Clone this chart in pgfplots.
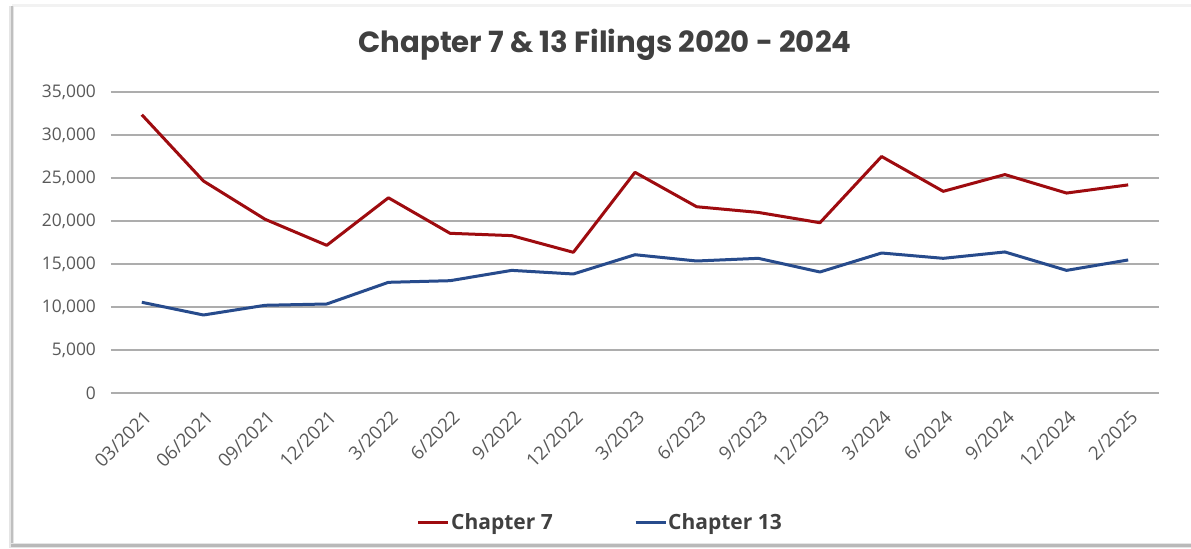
\documentclass[border=0pt]{standalone}
\usepackage{fontspec}
\setmainfont{Open Sans}
\newfontfamily\titlefont{Poppins}
\usepackage{pgfplots}
\pgfplotsset{compat=1.18}
\definecolor{chred}{HTML}{9E0B0F}
\definecolor{chblue}{HTML}{274B8C}
\definecolor{txtgray}{HTML}{595959}
\definecolor{titlegray}{HTML}{404040}
\definecolor{gridgray}{HTML}{ADADAD}
\begin{document}
\begin{tikzpicture}[x=1pt,y=1pt]
\useasboundingbox (0,0) rectangle (595.5,274);
\fill[white] (0,0) rectangle (595.5,274);
% frame with shadow
\fill[gray!10] (6,270.5) rectangle (595.5,272);
\fill[gray!20] (4.5,0.5) rectangle (7,271);
\fill[gray!50] (5.5,0.5) rectangle (6.6,271);
\fill[gray!20] (4.5,0) rectangle (595.5,2.5);
\fill[gray!55] (5.5,0.6) rectangle (595.5,1.8);
\node[font=\titlefont\bfseries\fontsize{14.6}{17}\selectfont, text=titlegray] at (302.5,251.5) {Chapter 7 \& 13 Filings 2020 - 2024};
\begin{axis}[
  at={(55.5pt,77.5pt)}, anchor=south west,
  scale only axis, width=524pt, height=150.5pt,
  xmin=-0.5, xmax=16.5, ymin=0, ymax=35000,
  ytick={0,5000,...,35000},
  xtick={0,...,16},
  xticklabels={03/2021,06/2021,09/2021,12/2021,3/2022,6/2022,9/2022,12/2022,3/2023,6/2023,9/2023,12/2023,3/2024,6/2024,9/2024,12/2024,2/2025},
  axis line style={draw=none},
  major tick length=0pt,
  ymajorgrids, grid style={gridgray, line width=0.6pt},
  scaled y ticks=false,
  /pgf/number format/.cd, 1000 sep={,}, assume math mode=true, fixed, /pgfplots/.cd,
  yticklabel style={font=\fontsize{8.7}{10}\selectfont, text=txtgray, xshift=-4pt},
  xticklabel style={font=\fontsize{9.3}{10}\selectfont, text=txtgray, xshift=5.5pt, yshift=-8pt, rotate=45, anchor=east},
  legend columns=2,
  legend style={at={(0.4666,-0.431)}, anchor=center, draw=none, fill=none,
    font=\bfseries\fontsize{10.5}{12}\selectfont, text=titlegray,
    nodes={inner sep=0.6pt},
    /tikz/every even column/.append style={column sep=40pt}},
  legend image code/.code={\draw[#1, line width=1.5pt] (0pt,0pt) -- (15pt,0pt);},
  every axis plot/.append style={line width=1.5pt, line join=round, mark=none},
  clip=false,
]
\addplot[chred] coordinates {
(0,32360) (1,24650) (2,20200) (3,17170) (4,22700) (5,18570) (6,18300) (7,16360)
(8,25660) (9,21660) (10,21000) (11,19800) (12,27500) (13,23450) (14,25400) (15,23250) (16,24200)};
\addlegendentry{Chapter 7}
\addplot[chblue] coordinates {
(0,10550) (1,9070) (2,10200) (3,10350) (4,12870) (5,13060) (6,14260) (7,13840)
(8,16080) (9,15350) (10,15660) (11,14070) (12,16280) (13,15660) (14,16400) (15,14260) (16,15470)};
\addlegendentry{Chapter 13}
\end{axis}
\end{tikzpicture}
\end{document}
